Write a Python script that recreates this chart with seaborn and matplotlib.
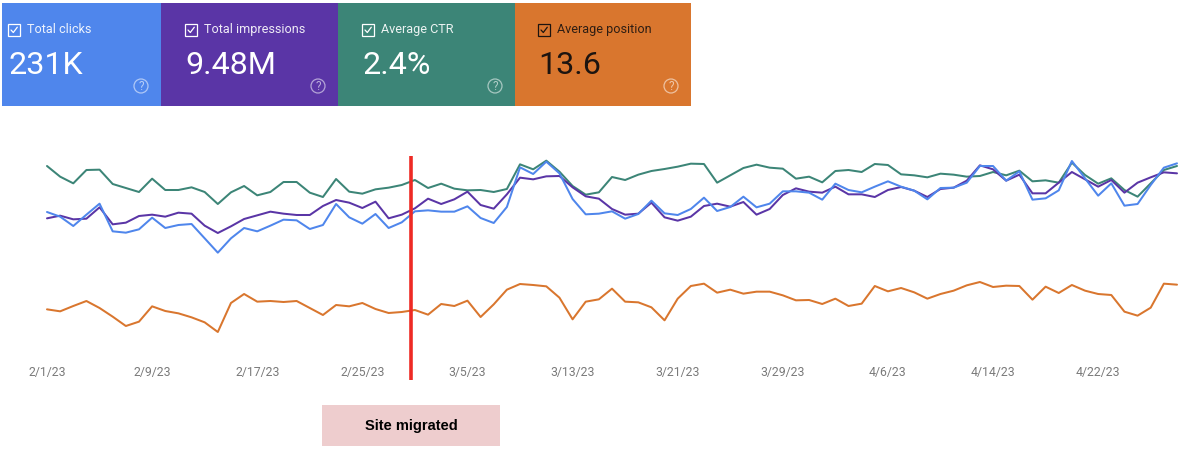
# plot.py
# Search console style performance chart with the site migration marked

import pandas as pd
import matplotlib
matplotlib.use("Agg")
import matplotlib.pyplot as plt
from matplotlib.patches import Rectangle, Circle
import seaborn as sns

W, H = 1181, 459

card_titles = ["Total clicks", "Total impressions", "Average CTR", "Average position"]
card_values = ["231K", "9.48M", "2.4%", "13.6"]
tick_labels = ["2/1/23", "2/9/23", "2/17/23", "2/25/23", "3/5/23", "3/13/23",
               "3/21/23", "3/29/23", "4/6/23", "4/14/23", "4/22/23"]
migrated_on = "2023-02-28 16:00"

# all four series are relative, the original chart has no y scale
ctr = [642, 610, 590, 630, 631, 588, 576, 564, 604, 570, 570, 578, 564, 528, 563,
       582, 554, 564, 594, 594, 562, 549, 603, 565, 559, 572, 577, 585, 600, 576,
       589, 574, 569, 570, 564, 573, 647, 632, 658, 625, 582, 556, 563, 609, 600,
       616, 627, 633, 640, 649, 648, 592, 614, 636, 646, 637, 634, 604, 610, 593,
       627, 630, 624, 648, 645, 617, 614, 608, 619, 616, 610, 612, 624, 614, 628,
       596, 599, 592, 652, 615, 589, 605, 570, 550, 590, 630, 642]
clicks = [504, 490, 462, 496, 529, 446, 442, 452, 487, 456, 465, 468, 425, 382, 425,
          456, 446, 463, 481, 479, 453, 465, 528, 488, 469, 498, 456, 473, 506, 509,
          505, 505, 521, 486, 471, 519, 638, 618, 655, 620, 543, 497, 499, 506, 484,
          498, 538, 500, 495, 513, 547, 507, 519, 550, 518, 529, 566, 566, 562, 541,
          589, 570, 563, 580, 596, 580, 568, 542, 576, 577, 592, 642, 642, 598, 626,
          541, 545, 569, 657, 605, 553, 590, 523, 528, 585, 637, 650]
impressions = [485, 493, 482, 484, 518, 467, 472, 492, 496, 490, 502, 499, 463, 441, 461,
               483, 494, 505, 499, 495, 495, 522, 540, 532, 516, 535, 485, 496, 515, 544,
               528, 542, 565, 525, 514, 557, 607, 602, 611, 612, 578, 551, 544, 513, 496,
               499, 532, 488, 478, 490, 522, 529, 520, 534, 496, 513, 555, 575, 565, 562,
               580, 557, 557, 549, 570, 579, 568, 549, 573, 577, 598, 644, 632, 598, 616,
               560, 560, 592, 624, 602, 580, 600, 562, 592, 608, 623, 620]
position = [212, 206, 222, 237, 216, 190, 162, 175, 221, 207, 200, 188, 173, 144, 231,
            258, 235, 237, 234, 237, 216, 195, 225, 221, 231, 213, 201, 204, 210, 196,
            228, 222, 238, 189, 227, 271, 288, 285, 281, 247, 182, 235, 242, 274, 235,
            233, 218, 179, 244, 282, 289, 262, 271, 259, 265, 265, 254, 239, 240, 228,
            244, 222, 229, 282, 266, 276, 263, 244, 258, 268, 284, 294, 279, 283, 282,
            241, 280, 261, 285, 268, 258, 255, 205, 193, 217, 289, 286]

BLUE, PURPLE, GREEN, ORANGE = "#4f86ec", "#5a35a6", "#3c8577", "#d9762e"
GRAY = "#7a7a7a"

dates = pd.date_range("2023-02-01", periods=len(ctr), freq="D")
df = pd.DataFrame({"date": dates, "ctr": ctr, "clicks": clicks,
                   "impressions": impressions, "position": position})

sns.set_theme(style="white")
plt.rcParams["font.family"] = ["Roboto", "DejaVu Sans"]

fig = plt.figure(figsize=(W / 100, H / 100), dpi=100)

# Chart area, placed to the pixel
ax = fig.add_axes([47 / W, 1 - 360 / H, (1177 - 47) / W, 210 / H])
sns.lineplot(data=df, x="date", y="position", color=ORANGE, lw=1.45, ax=ax)
sns.lineplot(data=df, x="date", y="ctr", color=GREEN, lw=1.45, ax=ax)
sns.lineplot(data=df, x="date", y="impressions", color=PURPLE, lw=1.45, ax=ax)
sns.lineplot(data=df, x="date", y="clicks", color=BLUE, lw=1.45, ax=ax)
ax.set_xlim(dates[0], dates[-1])
ax.set_ylim(60, 690)
ax.set_xlabel("")
ax.set_ylabel("")
ax.set_yticks([])
ax.set_xticks(dates[::8])
ax.set_xticklabels(tick_labels, fontsize=8.8, color=GRAY)
ax.tick_params(axis="x", length=0, pad=4.5)
sns.despine(ax=ax, left=True, bottom=True)
for line in ax.get_lines():
    line.set_clip_on(False)
ax.patch.set_alpha(0)

# Migration marker
ax.vlines(pd.Timestamp(migrated_on), 0, 672, color="#ee2a24", lw=2.6, clip_on=False, zorder=5)

# Overlay in pixel coordinates for the cards and the note
ov = fig.add_axes([0, 0, 1, 1])
ov.set_xlim(0, W)
ov.set_ylim(H, 0)
ov.axis("off")
ov.patch.set_alpha(0)

card_left = [2, 161, 338, 515]
card_right = [161, 338, 515, 691]
content_left = [8, 185, 362, 538]
card_colors = [BLUE, PURPLE, GREEN, ORANGE]
for i in range(4):
    x0, x1 = card_left[i], card_right[i]
    cx = content_left[i]
    fg = "#1c1410" if i == 3 else "white"
    ov.add_patch(Rectangle((x0, 3), x1 - x0, 103, color=card_colors[i], lw=0))
    # checkbox
    ov.add_patch(Rectangle((cx, 24), 12, 12, fill=False, ec=fg, lw=0.9))
    ov.plot([cx + 3, cx + 5.3, cx + 9.3], [30, 32.5, 27.2], color=fg, lw=0.9)
    ov.text(cx + 19, 29.7, card_titles[i], color=fg, fontsize=9.1, va="center", ha="left", alpha=0.9)
    ov.text(cx, 66, card_values[i], color=fg, fontsize=23.2, va="center", ha="left")
    # help icon
    ov.add_patch(Circle((cx + 133, 86), 7, fill=False, ec="white", lw=0.9, alpha=0.55))
    ov.text(cx + 133, 86.3, "?", color="white", fontsize=8.5, va="center", ha="center", alpha=0.6)

# Note under the chart
ov.add_patch(Rectangle((322, 405), 178, 41, color="#eecdce", lw=0))
ov.text(411, 426, "Site migrated", color="black", fontsize=10.5, fontweight="bold",
        family=["Liberation Sans", "DejaVu Sans"], va="center", ha="center")

fig.savefig("out.png", dpi=100, facecolor="white")
